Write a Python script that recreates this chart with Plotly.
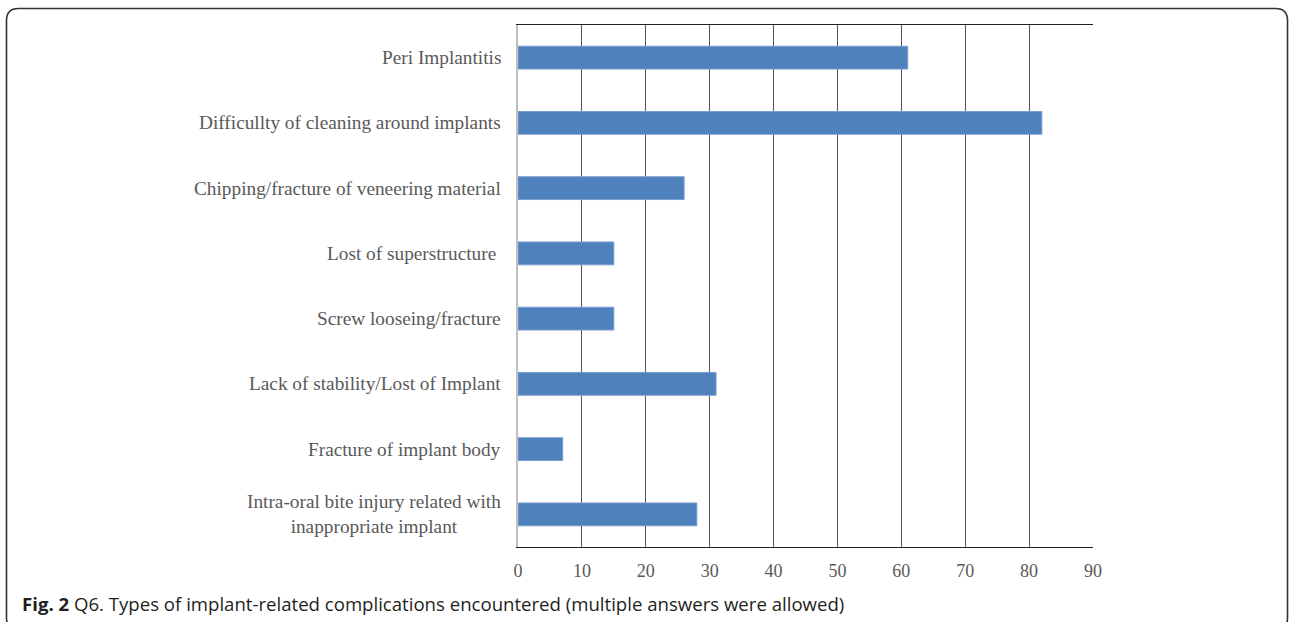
import plotly.graph_objects as go

# Complication categories (top to bottom) and number of respondents
categories = [
    "Peri Implantitis",
    "Difficullty of cleaning around implants",
    "Chipping/fracture of veneering material",
    "Lost of superstructure\u00a0",
    "Screw looseing/fracture",
    "Lack of stability/Lost of Implant",
    "Fracture of implant body",
    "Intra-oral bite injury related with<br>inappropriate implant",
]
counts = [61, 82, 26, 15, 15, 31, 7, 28]
x_ticks = [0, 10, 20, 30, 40, 50, 60, 70, 80, 90]
caption = ("<b>Fig. 2</b> Q6. Types of implant-related complications encountered "
           "(multiple answers were allowed)")

W, H = 1290, 622
L, R, T, B = 518, 197, 25, 75
PW, PH = W - L - R, H - T - B


def px(x):
    return (x - L) / PW


def py(y):
    return (H - B - y) / PH


fig = go.Figure(go.Bar(
    x=counts,
    y=categories,
    orientation="h",
    width=0.35,
    marker=dict(color="#4F81BD", line=dict(color="#7A9FD0", width=1)),
    hoverinfo="x+y",
))

# category labels, centred line by line for the two-line entry
annotations = [
    dict(x=0, xref="paper", xshift=-15, xanchor="right", y=c, yref="y",
         text=c, showarrow=False, align="center",
         font=dict(family="Liberation Serif", size=19.3, color="#595959"))
    for c in categories
]
annotations.append(dict(
    x=px(20), y=py(603), xref="paper", yref="paper", xanchor="left",
    yanchor="middle", text=caption, showarrow=False,
    font=dict(family="Open Sans", size=18.6, color="#231F20")))

# rounded frame around the figure
x0, x1, y0, y1, r = 6.5, 1287.5, 8.5, 630, 12
path = (f"M {px(x0)},{py(y0 + r)} Q {px(x0)},{py(y0)} {px(x0 + r)},{py(y0)} "
        f"L {px(x1 - r)},{py(y0)} Q {px(x1)},{py(y0)} {px(x1)},{py(y0 + r)} "
        f"L {px(x1)},{py(y1 - r)} Q {px(x1)},{py(y1)} {px(x1 - r)},{py(y1)} "
        f"L {px(x0 + r)},{py(y1)} Q {px(x0)},{py(y1)} {px(x0)},{py(y1 - r)} Z")
shapes = [dict(type="path", xref="paper", yref="paper", path=path,
               line=dict(color="#333333", width=1.6), layer="below")]

fig.update_layout(
    width=W, height=H, autosize=False,
    margin=dict(l=L, r=R, t=T, b=B, pad=0),
    paper_bgcolor="white", plot_bgcolor="white",
    showlegend=False,
    annotations=annotations,
    shapes=shapes,
    xaxis=dict(
        range=[0, 90], tickvals=x_ticks, ticktext=[str(v) for v in x_ticks],
        showgrid=True, gridcolor="#555555", gridwidth=1,
        zeroline=False, showline=True, linecolor="#222222", linewidth=1.2,
        mirror=True, ticks="", ticklabelstandoff=7,
        tickfont=dict(family="Liberation Serif", size=18, color="#595959"),
        fixedrange=True,
    ),
    yaxis=dict(
        categoryorder="array", categoryarray=categories,
        autorange="reversed", showticklabels=False, ticks="",
        showgrid=False, zeroline=False,
        showline=True, linecolor="#BFBFBF", linewidth=2,
        fixedrange=True,
    ),
)

fig.write_html("out.html")
